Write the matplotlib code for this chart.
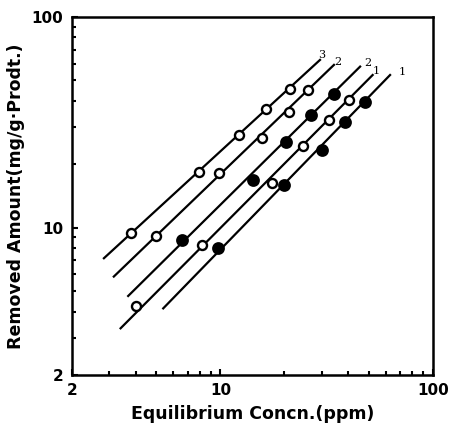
import numpy as np
import matplotlib.pyplot as plt
from matplotlib.ticker import FixedLocator, NullFormatter, FixedFormatter

# isotherm points (open / filled circles)
x3 = [3.79, 7.92, 12.2, 16.3, 21.3]
y3 = [9.40, 18.45, 27.6, 36.5, 45.4]
x2o = [4.95, 9.84, 15.7, 21.0, 25.9]
y2o = [9.17, 18.1, 26.5, 35.2, 45.0]
x2f = [6.61, 14.3, 20.3, 26.6, 34.2]
y2f = [8.74, 16.8, 25.5, 34.4, 43.1]
x1o = [4.02, 8.15, 17.5, 24.5, 32.4, 40.4]
y1o = [4.25, 8.28, 16.3, 24.5, 32.4, 40.4]
x1f = [9.77, 20.0, 30.1, 38.4, 47.7]
y1f = [7.98, 15.9, 23.4, 31.6, 39.6]

# fitted line ends
line3 = ([2.83, 29.4], [7.16, 62.5])
line2o = ([3.15, 34.2], [5.86, 59.2])
line2f = ([3.68, 45.4], [4.74, 58.1])
line1o = ([3.39, 52.0], [3.33, 53.0])
line1f = ([5.38, 62.8], [4.14, 53.0])

# curve labels
lab_txt = ['3', '2', '2', '1', '1']
lab_x = [29.8, 35.5, 49.1, 54.3, 71.7]
lab_y = [66.0, 61.4, 60.3, 55.6, 54.6]

fig = plt.figure(figsize=(4.52, 4.33), dpi=100)
ax = fig.add_axes([0.159, 0.134, 0.799, 0.827])

for lx, ly in [line3, line2o, line2f, line1o, line1f]:
    ax.plot(lx, ly, color='black', lw=1.6, zorder=1)

for xs, ys, filled in [(x3, y3, False), (x2o, y2o, False), (x2f, y2f, True),
                       (x1o, y1o, False), (x1f, y1f, True)]:
    ax.plot(xs, ys, 'o', ms=7.5 if filled else 6.5,
            mfc='black' if filled else 'white', mec='black', mew=1.7,
            ls='none', zorder=3)

for t, tx, ty in zip(lab_txt, lab_x, lab_y):
    ax.text(tx, ty, t, fontsize=8, family='DejaVu Serif', ha='center', va='center')

ax.set_xscale('log')
ax.set_yscale('log')
ax.set_xlim(2, 100)
ax.set_ylim(2, 100)

ax.xaxis.set_major_locator(FixedLocator([2, 10, 100]))
ax.xaxis.set_major_formatter(FixedFormatter(['2', '10', '100']))
ax.xaxis.set_minor_locator(FixedLocator([3, 4, 5, 6, 7, 8, 9, 20, 30, 40, 50, 60, 70, 80, 90]))
ax.xaxis.set_minor_formatter(NullFormatter())
ax.yaxis.set_major_locator(FixedLocator([2, 10, 100]))
ax.yaxis.set_major_formatter(FixedFormatter(['2', '10', '100']))
ax.yaxis.set_minor_locator(FixedLocator([3, 4, 5, 6, 7, 8, 9, 20, 30, 40, 50, 60, 70, 80, 90]))
ax.yaxis.set_minor_formatter(NullFormatter())

ax.tick_params(which='both', direction='in', top=False, right=False, width=1.5)
ax.tick_params(which='major', length=4, labelsize=11, pad=6)
ax.tick_params(which='minor', length=3)
for lbl in ax.get_xticklabels() + ax.get_yticklabels():
    lbl.set_fontweight('bold')
for s in ax.spines.values():
    s.set_linewidth(1.8)

ax.set_xlabel('Equilibrium Concn.(ppm)', fontsize=12.5, fontweight='bold', labelpad=5)
ax.set_ylabel('Removed Amount(mg/g\u00b7Prodt.)', fontsize=12.5, fontweight='bold', labelpad=5)

fig.savefig('out.png', dpi=100)
